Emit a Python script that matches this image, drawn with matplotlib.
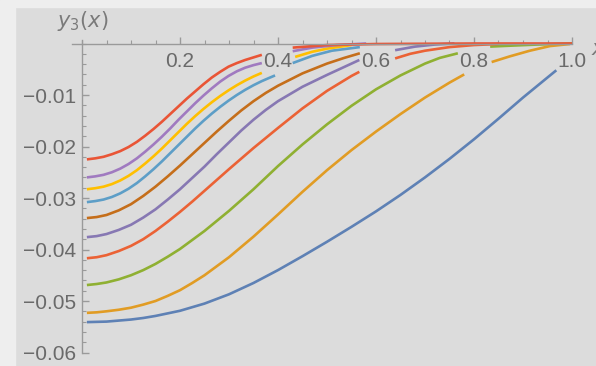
import matplotlib.pyplot as plt
from matplotlib.patches import Rectangle
from matplotlib.ticker import MultipleLocator, FuncFormatter

# solution branches y3(x): main part (from x=0) and the short tail close to zero
x_blue = [0.01, 0.05, 0.075, 0.1, 0.125, 0.15, 0.175, 0.2, 0.25, 0.3, 0.35, 0.4, 0.45, 0.5, 0.55, 0.6, 0.65, 0.7, 0.75, 0.8, 0.85, 0.9, 0.95, 0.968]
y_blue = [-0.0541, -0.0540, -0.0538, -0.0536, -0.0533, -0.0529, -0.0524, -0.0519, -0.0505, -0.0487, -0.0465, -0.0440, -0.0413, -0.0385, -0.0356, -0.0326, -0.0294, -0.0260, -0.0224, -0.0186, -0.0146, -0.0105, -0.0066, -0.0052]

x_orange = [0.01, 0.03, 0.05, 0.075, 0.1, 0.125, 0.15, 0.175, 0.2, 0.225, 0.25, 0.3, 0.35, 0.4, 0.45, 0.5, 0.55, 0.6, 0.65, 0.7, 0.75, 0.78]
y_orange = [-0.0523, -0.0522, -0.0520, -0.0517, -0.0513, -0.0507, -0.0500, -0.0490, -0.0479, -0.0465, -0.0450, -0.0415, -0.0375, -0.0332, -0.0288, -0.0246, -0.0207, -0.0171, -0.0137, -0.0105, -0.0076, -0.0060]
x_orange2 = [0.836, 0.873, 0.914, 0.955, 0.996]
y_orange2 = [-0.0036, -0.0025, -0.0014, -0.0005, -0.0001]

x_green = [0.01, 0.03, 0.05, 0.075, 0.1, 0.125, 0.15, 0.175, 0.2, 0.25, 0.3, 0.35, 0.4, 0.45, 0.5, 0.55, 0.6, 0.65, 0.7, 0.73, 0.767]
y_green = [-0.0469, -0.0467, -0.0464, -0.0458, -0.0450, -0.0440, -0.0428, -0.0414, -0.0399, -0.0364, -0.0325, -0.0283, -0.0238, -0.0196, -0.0157, -0.0121, -0.0089, -0.0062, -0.0039, -0.0028, -0.0019]
x_green2 = [0.833, 0.88, 0.93, 1.0]
y_green2 = [-0.0006, -0.0004, -0.0002, 0.0]

x_red = [0.01, 0.03, 0.05, 0.075, 0.1, 0.125, 0.15, 0.175, 0.2, 0.225, 0.25, 0.3, 0.35, 0.4, 0.45, 0.5, 0.55, 0.566]
y_red = [-0.0417, -0.0415, -0.0411, -0.0403, -0.0393, -0.0380, -0.0364, -0.0346, -0.0327, -0.0307, -0.0286, -0.0244, -0.0203, -0.0164, -0.0126, -0.0092, -0.0063, -0.0055]
x_red2 = [0.639, 0.67, 0.7, 0.75, 0.8, 0.85]
y_red2 = [-0.0029, -0.0020, -0.0014, -0.0007, -0.0003, -0.0001]

x_purple = [0.01, 0.03, 0.05, 0.075, 0.1, 0.125, 0.15, 0.175, 0.2, 0.225, 0.25, 0.275, 0.3, 0.325, 0.35, 0.375, 0.4, 0.45, 0.5, 0.566]
y_purple = [-0.0376, -0.0374, -0.0370, -0.0362, -0.0352, -0.0338, -0.0322, -0.0303, -0.0283, -0.0261, -0.0239, -0.0215, -0.0192, -0.0169, -0.0148, -0.0129, -0.0112, -0.0084, -0.0061, -0.0032]
x_purple2 = [0.639, 0.68, 0.72, 0.76]
y_purple2 = [-0.0013, -0.0006, -0.0002, 0.0]

x_brown = [0.01, 0.03, 0.05, 0.075, 0.1, 0.125, 0.15, 0.175, 0.2, 0.225, 0.25, 0.275, 0.3, 0.325, 0.35, 0.375, 0.4, 0.45, 0.5, 0.535, 0.567]
y_brown = [-0.0339, -0.0337, -0.0333, -0.0324, -0.0312, -0.0296, -0.0278, -0.0258, -0.0237, -0.0215, -0.0193, -0.0171, -0.0150, -0.0130, -0.0112, -0.0096, -0.0082, -0.0058, -0.0039, -0.0028, -0.0019]

# the four upper branches share one x grid up to 0.367
x_upper = [0.01, 0.027, 0.044, 0.061, 0.078, 0.095, 0.112, 0.129, 0.146, 0.163, 0.18, 0.197, 0.214, 0.231, 0.248, 0.265, 0.282, 0.299, 0.316, 0.333, 0.35, 0.367]

x_ltblue = x_upper + [0.384, 0.394]
y_ltblue = [-0.0308, -0.0306, -0.0303, -0.0298, -0.0291, -0.0282, -0.0271, -0.0258, -0.0244, -0.0229, -0.0213, -0.0197, -0.0181, -0.0165, -0.0150, -0.0136, -0.0123, -0.0111, -0.0100, -0.0090, -0.0081, -0.0073, -0.0066, -0.0062]
x_ltblue2 = [0.43, 0.47, 0.51, 0.567]
y_ltblue2 = [-0.0038, -0.0024, -0.0014, -0.0007]

x_yellow = x_upper
y_yellow = [-0.0283, -0.0281, -0.0278, -0.0273, -0.0266, -0.0257, -0.0246, -0.0233, -0.0219, -0.0204, -0.0188, -0.0172, -0.0156, -0.0141, -0.0127, -0.0114, -0.0102, -0.0091, -0.0081, -0.0072, -0.0064, -0.0057]
x_yellow2 = [0.435, 0.47, 0.5, 0.55]
y_yellow2 = [-0.0026, -0.0016, -0.0010, -0.0003]

x_violet = x_upper
y_violet = [-0.0260, -0.0258, -0.0255, -0.0250, -0.0243, -0.0234, -0.0223, -0.0210, -0.0196, -0.0181, -0.0165, -0.0148, -0.0132, -0.0116, -0.0101, -0.0087, -0.0074, -0.0063, -0.0054, -0.0047, -0.0042, -0.0038]
x_violet2 = [0.43, 0.47, 0.52, 0.58]
y_violet2 = [-0.0015, -0.0008, -0.0003, 0.0]

x_top = x_upper
y_top = [-0.0225, -0.0223, -0.0220, -0.0215, -0.0209, -0.0201, -0.0191, -0.0179, -0.0166, -0.0152, -0.0137, -0.0122, -0.0107, -0.0093, -0.0079, -0.0066, -0.0055, -0.0045, -0.0038, -0.0032, -0.0027, -0.0022]
x_top2 = [0.43, 0.5, 0.6, 0.8, 1.0]
y_top2 = [-0.0008, -0.0003, -0.0001, 0.0, 0.0]

branches = [
    (x_blue, y_blue, '#5E81B5'),
    (x_orange, y_orange, '#E19C24'),
    (x_green, y_green, '#8FB032'),
    (x_red, y_red, '#EB6235'),
    (x_purple, y_purple, '#8778B3'),
    (x_brown, y_brown, '#C56E1A'),
    (x_ltblue, y_ltblue, '#5D9EC7'),
    (x_yellow, y_yellow, '#FFBF00'),
    (x_violet, y_violet, '#A07AC0'),
    (x_top, y_top, '#E95536'),
    (x_green2, y_green2, '#8FB032'),
    (x_orange2, y_orange2, '#E19C24'),
    (x_purple2, y_purple2, '#8778B3'),
    (x_red2, y_red2, '#EB6235'),
    (x_ltblue2, y_ltblue2, '#5D9EC7'),
    (x_yellow2, y_yellow2, '#FFBF00'),
    (x_violet2, y_violet2, '#A07AC0'),
    (x_top2, y_top2, '#E95536'),
]

fig = plt.figure(figsize=(5.96, 3.66), dpi=100, facecolor='#dcdcdc')
# lighter frame strip along the top and left
fig.patches.append(Rectangle((0, 1 - 7 / 366), 1, 7 / 366, transform=fig.transFigure, color='#eeeeee', zorder=-1))
fig.patches.append(Rectangle((0, 0), 15 / 596, 1, transform=fig.transFigure, color='#eeeeee', zorder=-1))

W, H = 596, 366
left, right = 72, 574
top, bottom = 40, 354
ax = fig.add_axes([left / W, 1 - bottom / H, (right - left) / W, (bottom - top) / H])
ax.set_facecolor('none')

for xs, ys, c in branches:
    ax.plot(xs, ys, color=c, lw=1.9, solid_capstyle='butt', solid_joinstyle='round', clip_on=False)

x0 = -(82 - left) / 490
ax.set_xlim(x0, x0 + (right - left) / 490)
ax.set_ylim(-(bottom - 43.5) / 5150, (43.5 - top) / 5150)

for s in ['top', 'right']:
    ax.spines[s].set_visible(False)
ax.spines['bottom'].set_position(('data', 0))
ax.spines['left'].set_position(('data', 0))
ax.spines['left'].set_bounds(-0.06, 0.0006)
ax.spines['bottom'].set_bounds(x0, 1.0)
for s in ['bottom', 'left']:
    ax.spines[s].set_color('#9a9a9a')
    ax.spines[s].set_linewidth(1.0)

ax.xaxis.set_minor_locator(MultipleLocator(0.05))
ax.yaxis.set_minor_locator(MultipleLocator(0.002))
ax.set_xticks([0.2, 0.4, 0.6, 0.8, 1.0])
ax.set_yticks([-0.01, -0.02, -0.03, -0.04, -0.05, -0.06])
ax.xaxis.set_major_formatter(FuncFormatter(lambda v, p: f'{v:.1f}'))
ax.yaxis.set_major_formatter(FuncFormatter(lambda v, p: f'\u2212{abs(v):.2f}'))
ax.tick_params(which='both', direction='in', color='#9a9a9a', labelcolor='#6a6a6a',
               labelsize=15)
ax.tick_params(which='major', length=5, width=1.0)
ax.tick_params(which='minor', length=3, width=0.8)
ax.tick_params(axis='x', pad=6)
ax.tick_params(axis='y', pad=4)
for lab in ax.get_xticklabels() + ax.get_yticklabels():
    lab.set_family('Liberation Sans')

fig.text(57 / W, 1 - 27 / H, '$y_3(x)$', fontsize=15, color='#7a7a7a')
fig.text(591 / W, 1 - 55 / H, '$x$', fontsize=15, color='#7a7a7a')

fig.savefig('out.png', dpi=100, facecolor=fig.get_facecolor())
